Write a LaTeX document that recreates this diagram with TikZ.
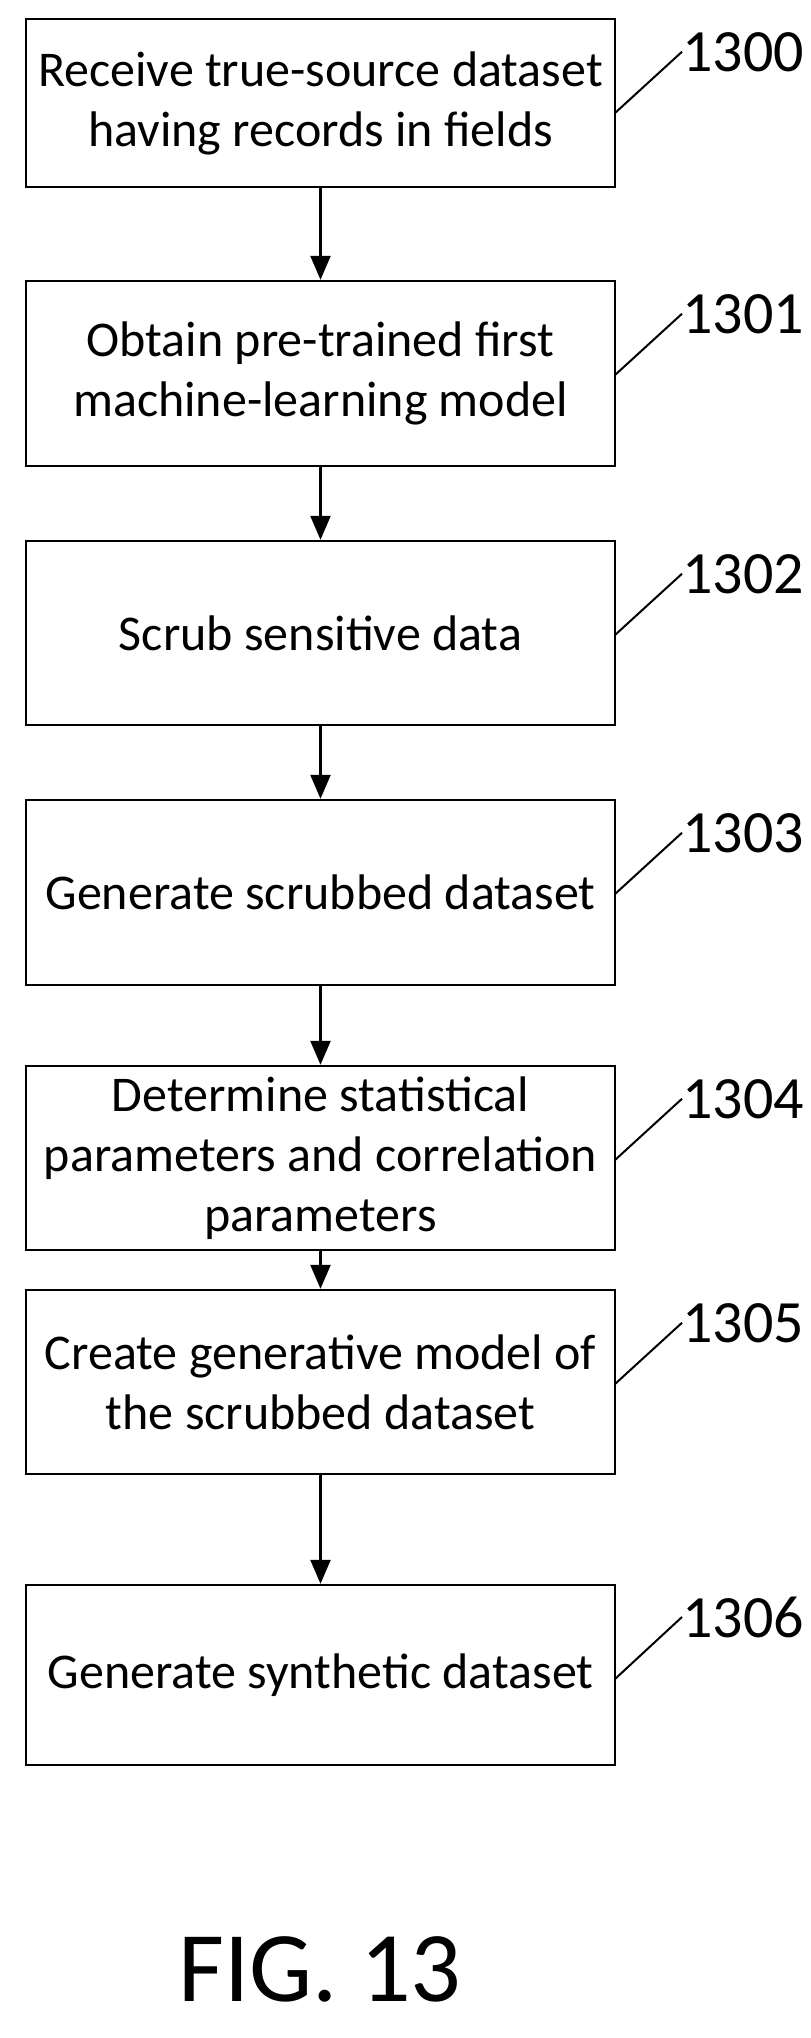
\documentclass[tikz,border=0pt]{standalone}
\usepackage{fontspec}
\setmainfont{Carlito}
\usetikzlibrary{arrows.meta}
\begin{document}
\begin{tikzpicture}[x=1pt,y=-1pt,
  box/.style={draw,line width=2.4pt,minimum width=589pt,align=center,font=\fontsize{50}{60}\selectfont,inner sep=0pt},
  num/.style={font=\fontsize{60}{66}\selectfont,inner sep=0pt},
  arr/.style={-{Triangle[length=24pt,width=20pt]},line width=2.4pt},
  lead/.style={line width=2pt}]
\useasboundingbox (0,0) rectangle (811,2038);
\def\mk#1#2#3#4#5{%
  \node[box,minimum height=#3-#2] (b#1) at (320.5,{(#2+#3)/2}) {#4};
  \node[num,anchor=base west] (n#1) at (682,#2+52) {#5};
  \coordinate (c#1) at (615,#2+94);
  \draw[lead] (c#1) -- (n#1.west);}
\mk{0}{19}{187}{Receive true-source dataset\\having records in fields}{1300}
\mk{1}{281}{466}{Obtain pre-trained first\\machine-learning model}{1301}
\mk{2}{541}{725}{Scrub sensitive data}{1302}
\mk{3}{800}{985}{Generate scrubbed dataset}{1303}
\mk{4}{1066}{1250}{Determine statistical\\parameters and correlation\\parameters}{1304}
\mk{5}{1290}{1474}{Create generative model of\\the scrubbed dataset}{1305}
\mk{6}{1585}{1765}{Generate synthetic dataset}{1306}
\foreach \a/\b in {0/1,1/2,2/3,3/4,4/5,5/6} \draw[arr] (b\a) -- (b\b);
\node[font=\fontsize{100}{110}\selectfont] (fig) at (320,1969) {FIG. 13};
\end{tikzpicture}
\end{document}
